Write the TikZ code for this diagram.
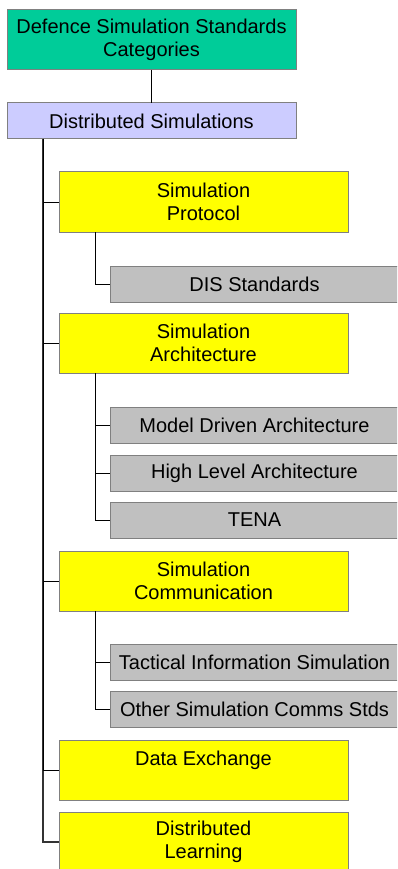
\documentclass[tikz,border=0pt]{standalone}
\usepackage{fontspec}
\setmainfont{Liberation Sans}
\usepackage{tikz}
\usetikzlibrary{positioning}
\usepackage{xcolor}
\definecolor{rootfill}{HTML}{00CC99}
\definecolor{groupfill}{HTML}{CCCCFF}
\definecolor{catfill}{HTML}{FFFF00}
\definecolor{stdfill}{HTML}{C0C0C0}
\definecolor{edge}{HTML}{808080}
\definecolor{ink}{HTML}{000000}
\tikzset{
  every node/.style={font=\fontsize{20pt}{23pt}\selectfont,text=ink},
  box/.style={draw=edge,line width=1pt,minimum width=289pt,align=center,inner xsep=2pt,inner ysep=0pt,outer sep=0pt},
  rootbox/.style={box,fill=rootfill,minimum height=60pt},
  groupbox/.style={box,fill=groupfill,minimum height=36pt},
  catbox/.style={box,fill=catfill,minimum height=60pt},
  stdbox/.style={box,fill=stdfill,minimum height=36pt},
  link/.style={draw=ink,line width=1pt},
  trunk/.style={draw=ink!80,line width=1.6pt},
}
\begin{document}
\begin{tikzpicture}
\useasboundingbox (0,0) rectangle (397pt,-869pt);
\clip (0,0) rectangle (397pt,-869pt);

\node[rootbox,anchor=north west] (cat) at (7pt,-10pt) {Defence Simulation Standards\\Categories};
\node[groupbox,below=33pt of cat] (ds) {Distributed Simulations};

% categories
\node[catbox,below right=33pt and 52pt of ds.south west] (sp) {Simulation\\Protocol};
\node[catbox,below=81pt of sp.south west,anchor=north west] (sa) {Simulation\\Architecture};
\node[catbox,below=178pt of sa.south west,anchor=north west] (sc) {Simulation\\Communication};
\node[catbox,below=129pt of sc.south west,anchor=north west] (de) {Data Exchange\\\mbox{}};
\node[catbox,below=12pt of de] (dl) {Distributed\\Learning};

% standards
\node[stdbox,below right=34pt and 51pt of sp.south west] (dis) {DIS Standards};
\node[stdbox,below right=34pt and 51pt of sa.south west] (mda) {Model Driven Architecture};
\node[stdbox,below=12pt of mda] (hla) {High Level Architecture};
\node[stdbox,below=11pt of hla] (tena) {TENA};
\node[stdbox,below right=33pt and 51pt of sc.south west] (tis) {Tactical Information Simulation};
\node[stdbox,below=11pt of tis] (osc) {Other Simulation Comms Stds};

\draw[link] (cat) -- (ds);
\draw[trunk] ([xshift=36pt]ds.south west) |- (dl.west);
\draw[link] ([xshift=36pt]ds.south west) |- (sp.west);
\draw[link] ([xshift=36pt]ds.south west) |- (sa.west);
\draw[link] ([xshift=36pt]ds.south west) |- (sc.west);
\draw[link] ([xshift=36pt]ds.south west) |- (de.west);
\draw[link] ([xshift=36pt]sp.south west) |- (dis.west);
\draw[link] ([xshift=36pt]sa.south west) |- (mda.west);
\draw[link] ([xshift=36pt]sa.south west) |- (hla.west);
\draw[link] ([xshift=36pt]sa.south west) |- (tena.west);
\draw[link] ([xshift=36pt]sc.south west) |- (tis.west);
\draw[link] ([xshift=36pt]sc.south west) |- (osc.west);

\end{tikzpicture}
\end{document}
